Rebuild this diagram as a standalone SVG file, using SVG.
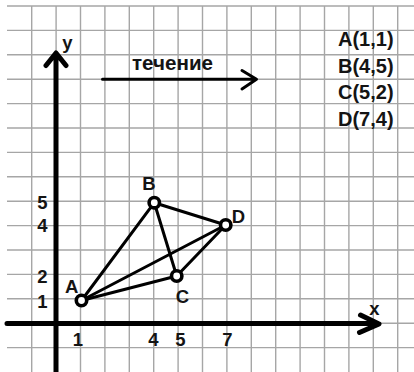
<svg xmlns="http://www.w3.org/2000/svg" width="414" height="372" viewBox="0 0 414 372">
<style>
.grid line{stroke:#a6a6a6;stroke-width:1.4}
.ax{stroke:#000;stroke-width:5;fill:none;stroke-linecap:round;stroke-linejoin:round}
.seg{stroke:#000;stroke-width:3;fill:none;stroke-linecap:round}
.pt{fill:#fff;stroke:#000;stroke-width:3.6}
text{font-family:"Liberation Sans",Arial,sans-serif;font-weight:bold;fill:#141414}
.lbl{font-size:18.5px;text-anchor:middle}
.co{font-size:20px}
</style>
<rect width="414" height="372" fill="#fff"/>
<g class="grid" id="grid">
<line x1="31.7" y1="6" x2="31.7" y2="372"/><line x1="56.1" y1="6" x2="56.1" y2="372"/><line x1="80.5" y1="6" x2="80.5" y2="372"/><line x1="104.9" y1="6" x2="104.9" y2="372"/><line x1="129.3" y1="6" x2="129.3" y2="372"/><line x1="153.7" y1="6" x2="153.7" y2="372"/><line x1="178.1" y1="6" x2="178.1" y2="372"/><line x1="202.5" y1="6" x2="202.5" y2="372"/><line x1="226.9" y1="6" x2="226.9" y2="372"/><line x1="251.3" y1="6" x2="251.3" y2="372"/><line x1="275.7" y1="6" x2="275.7" y2="372"/><line x1="300.1" y1="6" x2="300.1" y2="372"/><line x1="324.5" y1="6" x2="324.5" y2="372"/><line x1="348.9" y1="6" x2="348.9" y2="372"/><line x1="373.3" y1="6" x2="373.3" y2="372"/><line x1="397.7" y1="6" x2="397.7" y2="372"/>
<line x1="7" y1="6" x2="414" y2="6"/><line x1="7" y1="30.4" x2="414" y2="30.4"/><line x1="7" y1="54.8" x2="414" y2="54.8"/><line x1="7" y1="79.2" x2="414" y2="79.2"/><line x1="7" y1="103.6" x2="414" y2="103.6"/><line x1="7" y1="128" x2="414" y2="128"/><line x1="7" y1="152.4" x2="414" y2="152.4"/><line x1="7" y1="176.8" x2="414" y2="176.8"/><line x1="7" y1="201.2" x2="414" y2="201.2"/><line x1="7" y1="225.6" x2="414" y2="225.6"/><line x1="7" y1="250" x2="414" y2="250"/><line x1="7" y1="274.4" x2="414" y2="274.4"/><line x1="7" y1="298.8" x2="414" y2="298.8"/><line x1="7" y1="323.2" x2="414" y2="323.2"/><line x1="7" y1="347.6" x2="414" y2="347.6"/>
</g>
<g id="axes">
<path class="ax" d="M56 372 V54 M46 65.5 L56 53 L66 65.5"/>
<path class="ax" d="M7 323.5 H378 M360.5 315 L379 324 L359.5 332.5"/>
<text x="67.5" y="49" class="lbl">y</text>
<text x="374.5" y="315" class="lbl">x</text>
<text x="42.5" y="209" class="lbl">5</text>
<text x="42.5" y="232" class="lbl">4</text>
<text x="42.5" y="283" class="lbl">2</text>
<text x="42.5" y="308" class="lbl">1</text>
<text x="78" y="346" class="lbl">1</text>
<text x="153.5" y="346" class="lbl">4</text>
<text x="180.5" y="346" class="lbl">5</text>
<text x="227.5" y="346" class="lbl">7</text>
</g>
<g id="flow">
<path d="M102.5 79.3 H255.5 M242 70.5 L256.5 79.3 L242 89" stroke="#000" stroke-width="3" fill="none" stroke-linecap="round" stroke-linejoin="round"/>
<text x="132" y="70" class="co" textLength="81" lengthAdjust="spacingAndGlyphs">течение</text>
</g>
<g id="coords" class="co">
<text x="338" y="46">A(1,1)</text>
<text x="338" y="72.5">B(4,5)</text>
<text x="338" y="99">C(5,2)</text>
<text x="338" y="125.5">D(7,4)</text>
</g>
<g id="connectors">
<line class="seg" x1="81.5" y1="300.5" x2="154.3" y2="202.7"/>
<line class="seg" x1="81.5" y1="300.5" x2="176.7" y2="276"/>
<line class="seg" x1="81.5" y1="300.5" x2="225.7" y2="225"/>
<line class="seg" x1="154.3" y1="202.7" x2="176.7" y2="276"/>
<line class="seg" x1="154.3" y1="202.7" x2="225.7" y2="225"/>
<line class="seg" x1="176.7" y1="276" x2="225.7" y2="225"/>
</g>
<g id="A"><circle class="pt" cx="81.5" cy="300.5" r="5.2"/><text x="71.7" y="293" class="lbl">A</text></g>
<g id="B"><circle class="pt" cx="154.3" cy="202.7" r="5.2"/><text x="149" y="190" class="lbl">B</text></g>
<g id="C"><circle class="pt" cx="176.7" cy="276" r="5.2"/><text x="182.5" y="303" class="lbl">C</text></g>
<g id="D"><circle class="pt" cx="225.7" cy="225" r="5.2"/><text x="238.5" y="223" class="lbl">D</text></g>
</svg>
